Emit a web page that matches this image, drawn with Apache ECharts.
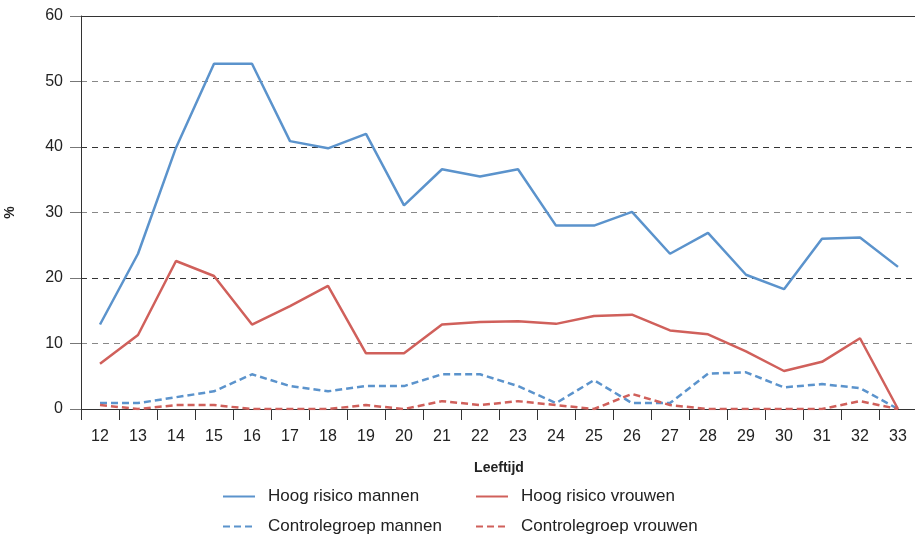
<!DOCTYPE html>
<html>
<head>
<meta charset="utf-8">
<script src="https://cdn.jsdelivr.net/npm/echarts@6/dist/echarts.min.js"></script>
<style>html,body{margin:0;padding:0;background:#fff}#c{width:915px;height:535px}</style>
</head>
<body>
<div id="c"></div>
<script>
const categories = ['12','13','14','15','16','17','18','19','20','21','22','23','24','25','26','27','28','29','30','31','32','33'];
const hoogMannen = [12.9,23.7,39.9,52.7,52.7,40.9,39.8,42.0,31.1,36.6,35.5,36.6,28.0,28.0,30.1,23.7,26.9,20.5,18.3,26.0,26.2,21.7];
const hoogVrouwen = [6.9,11.3,22.6,20.3,12.9,15.7,18.8,8.5,8.5,12.9,13.3,13.4,13.0,14.2,14.4,12.0,11.4,8.8,5.8,7.2,10.8,0];
const controleMannen = [0.9,0.9,1.8,2.7,5.3,3.5,2.7,3.5,3.5,5.3,5.3,3.5,0.9,4.4,0.9,0.9,5.4,5.6,3.3,3.8,3.2,0];
const controleVrouwen = [0.6,0,0.6,0.6,0,0,0,0.6,0,1.2,0.6,1.2,0.6,0,2.3,0.6,0,0,0,0,1.2,0];
const yTicks = [0,10,20,30,40,50,60];

const BLUE = '#5b93cc', RED = '#d0605b';
const FONT = 'Liberation Sans, Arial, sans-serif';
const chart = echarts.init(document.getElementById('c'), null, {renderer:'canvas'});

function legendAt(name, left, top){
  return {
    data:[name], left:left, top:top, orient:'horizontal', padding:0,
    itemWidth:32, itemHeight:14, itemGap:0,
    itemStyle:{color:'transparent', borderWidth:0, opacity:0},
    textStyle:{fontFamily:FONT, fontSize:17, color:'#222', padding:[0,0,0,8]}
  };
}

chart.setOption({
  animation:false,
  backgroundColor:'#fff',
  legend:[
    legendAt('Hoog risico mannen', 222, 488),
    legendAt('Hoog risico vrouwen', 475, 488),
    legendAt('Controlegroep mannen', 222, 518),
    legendAt('Controlegroep vrouwen', 475, 518)
  ],
  grid:{left:81, top:16, width:836, height:393, containLabel:false, outerBoundsMode:'none'},
  xAxis:[{
    type:'category', data:categories, boundaryGap:true,
    name:'Leeftijd', nameLocation:'middle', nameGap:52,
    nameTextStyle:{fontFamily:FONT, fontSize:14, fontWeight:'bold', color:'#222'},
    axisLine:{lineStyle:{color:'#333', width:1}},
    axisTick:{show:true, length:11, lineStyle:{color:'#333'}},
    axisLabel:{fontFamily:FONT, fontSize:16, color:'#222', margin:20},
    splitLine:{show:false}
  },{
    type:'category', data:categories, position:'top', boundaryGap:true,
    axisLine:{show:true, lineStyle:{color:'#333', width:1}},
    axisTick:{show:false}, axisLabel:{show:false}, splitLine:{show:false}
  }],
  yAxis:{
    type:'value', min:yTicks[0], max:yTicks[yTicks.length-1], interval:10,
    name:'%', nameLocation:'middle', nameGap:64, nameRotate:90,
    nameTextStyle:{fontFamily:FONT, fontSize:14, fontWeight:'bold', color:'#222'},
    axisLine:{show:true, lineStyle:{color:'#333', width:1}},
    axisTick:{show:true, length:11, lineStyle:{color:'#777'}},
    axisLabel:{fontFamily:FONT, fontSize:16, color:'#222', margin:18},
    splitLine:{show:true, lineStyle:{color:['#333','#888'], type:[6,5], width:1}}
  },
  series:[
    {name:'Hoog risico mannen', type:'line', data:hoogMannen, symbol:'none', lineStyle:{color:BLUE, width:2.5}, itemStyle:{color:BLUE}, z:4},
    {name:'Hoog risico vrouwen', type:'line', data:hoogVrouwen, symbol:'none', lineStyle:{color:RED, width:2.5}, itemStyle:{color:RED}, z:4},
    {name:'Controlegroep mannen', type:'line', data:controleMannen, symbol:'none', lineStyle:{color:BLUE, width:2.5, type:[7,4]}, itemStyle:{color:BLUE}, z:3},
    {name:'Controlegroep vrouwen', type:'line', data:controleVrouwen, symbol:'none', lineStyle:{color:RED, width:2.5, type:[7,4]}, itemStyle:{color:RED}, z:3}
  ]
});
</script>
</body>
</html>
